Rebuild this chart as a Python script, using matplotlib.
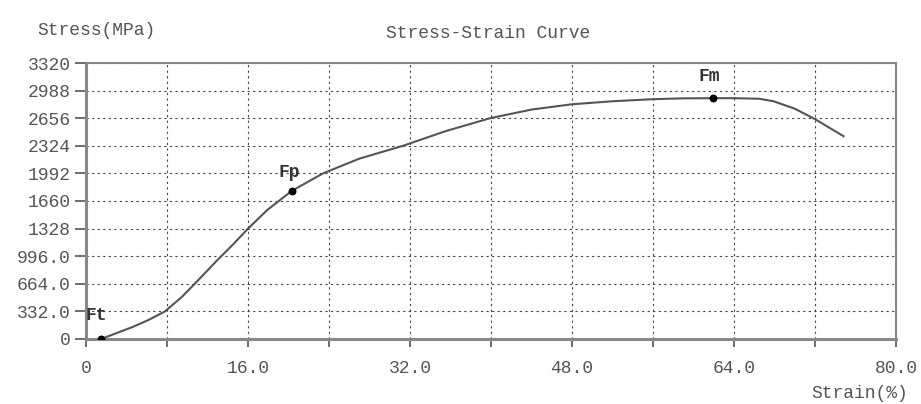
import numpy as np
import matplotlib.pyplot as plt

# curve (strain %, stress MPa)
strain = [1.5, 3.0, 4.6, 6.2, 7.8, 9.5, 11.3, 12.9, 14.5, 16.0, 17.9, 20.3,
          23.4, 27.0, 31.3, 35.5, 39.9, 44.0, 48.0, 52.0, 56.0, 59.0, 61.9,
          64.0, 66.5, 67.9, 70.0, 72.0, 74.8]
stress = [0, 70, 144, 230, 332, 510, 735, 940, 1135, 1328, 1552, 1780,
          1992, 2170, 2324, 2500, 2656, 2760, 2824, 2860, 2885, 2895, 2897,
          2897, 2890, 2860, 2770, 2644, 2440]

pt_names = ['Ft', 'Fp', 'Fm']
pt_strain = [1.5, 20.3, 61.9]
pt_stress = [0, 1780, 2897]
# label positions next to the points
lab_strain = [1.0, 20.1, 61.5]
lab_stress = [280, 1997, 3152]

xticks = [0, 8, 16, 24, 32, 40, 48, 56, 64, 72, 80]
xtick_labels = ['0', '', '16.0', '', '32.0', '', '48.0', '', '64.0', '', '80.0']
yticks = [0, 332, 664, 996, 1328, 1660, 1992, 2324, 2656, 2988, 3320]
ytick_labels = ['0', '332.0', '664.0', '996.0', '1328', '1660', '1992',
                '2324', '2656', '2988', '3320']

plt.rcParams['font.family'] = ['Liberation Mono']
txt = '#555555'
fs = 13

fig = plt.figure(figsize=(9.21, 4.04), dpi=100)
ax = fig.add_axes([0.0934, 0.161, 0.8796, 0.683])

ax.plot(strain, stress, color='#555555', lw=1.5)
ax.scatter(pt_strain, pt_stress, s=22, color='black', zorder=5)
for name, xs, ys in zip(pt_names, lab_strain, lab_stress):
    ax.text(xs, ys, name, fontsize=fs, fontweight='bold', color='#333333',
            ha='center', va='center')

ax.set_xlim(0, 80)
ax.set_ylim(0, 3320)
ax.set_xticks(xticks)
ax.set_xticklabels(xtick_labels)
ax.set_yticks(yticks)
ax.set_yticklabels(ytick_labels)
ax.tick_params(colors=txt, labelsize=fs, width=1.2, direction='out')
ax.tick_params(axis='x', length=6, pad=9)
ax.tick_params(axis='y', length=8, pad=3)

ax.grid(True, color='#444444', linestyle=(0, (2, 3)), linewidth=0.8)
for s in ax.spines.values():
    s.set_color('#888888')
    s.set_linewidth(1.5)
ax.spines['left'].set_linewidth(2.2)
ax.spines['bottom'].set_linewidth(2.2)

fig.text(0.04, 0.925, 'Stress(MPa)', fontsize=fs, color=txt, ha='left', va='center')
fig.text(0.53, 0.918, 'Stress-Strain Curve', fontsize=fs, color=txt, ha='center', va='center')
fig.text(0.986, 0.027, 'Strain(%)', fontsize=fs, color=txt, ha='right', va='center')

fig.savefig('out.png', dpi=100)
